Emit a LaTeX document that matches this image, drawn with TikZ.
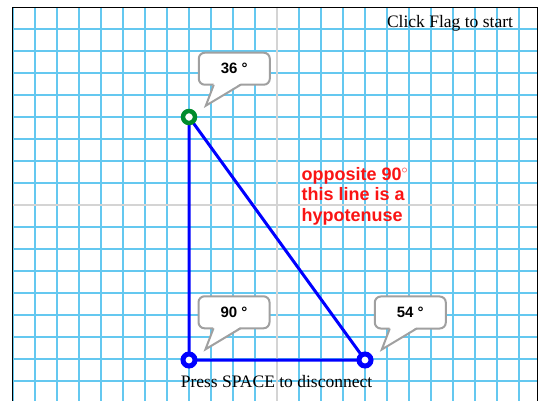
\documentclass[tikz,border=0pt]{standalone}
\usepackage{fontspec}
\setmainfont{Liberation Serif}
\newfontfamily\labelfont{Liberation Sans}
\usetikzlibrary{positioning}
\definecolor{gridblue}{RGB}{100,200,240}
\definecolor{centergray}{RGB}{212,212,212}
\definecolor{bubblegray}{RGB}{160,160,160}
\definecolor{markgreen}{RGB}{0,140,45}
\definecolor{hintred}{RGB}{250,20,20}
\newcommand{\calltail}[1]{%
    \fill[white] ([xshift=16pt,yshift=2.5pt]#1.south west) -- ([xshift=8pt,yshift=-20pt]#1.south west) -- ([xshift=43pt,yshift=2.5pt]#1.south west) -- cycle;
    \draw[tail] ([xshift=16pt,yshift=1pt]#1.south west) -- ([xshift=8pt,yshift=-20pt]#1.south west) -- ([xshift=43pt,yshift=1pt]#1.south west);}

\begin{document}
\begin{tikzpicture}[
    x=1pt, y=-1pt,
    gridline/.style={gridblue, line width=1.1pt},
    centerline/.style={centergray, line width=1.6pt},
    side/.style={blue, line width=3pt},
    vtx/.style={circle, draw=blue, line width=5pt, minimum size=12pt, inner sep=0pt, fill=white},
    bubble/.style={draw=bubblegray, line width=2pt, fill=white, rounded corners=6pt, minimum width=71pt, minimum height=32pt, inner sep=0pt, font=\labelfont\bfseries\fontsize{15}{17}\selectfont},
    tail/.style={bubblegray, line width=2pt, line join=miter},
    hint/.style={hintred, align=left, inner sep=0pt, font=\labelfont\bfseries\fontsize{18}{20.5}\selectfont},
    caption/.style={font=\fontsize{17.5}{20}\selectfont, inner sep=0pt}
]
    \useasboundingbox (0,0) rectangle (547,401);
    \fill[white] (0,0) rectangle (547,401);

    \foreach \k in {-12,...,11}
        \draw[gridline] (277+22*\k,7) -- (277+22*\k,401);
    \foreach \k in {-8,...,8}
        \draw[gridline] (12,205+22*\k) -- (538,205+22*\k);
    \draw[centerline] (277,7) -- (277,401);
    \draw[centerline] (12,205) -- (538,205);
    \draw[black, line width=1.5pt] (12.5,401) -- (12.5,7.5) -- (537.5,7.5) -- (537.5,401);

    \node[caption, anchor=base] (start) at (450,28) {Click Flag to start};

    \coordinate (A) at (189,117);
    \coordinate (B) at (189,360);
    \coordinate (C) at (365,360);
    \draw[side] (A) -- (B) -- (C) -- (A);
    \node[vtx, draw=markgreen, line width=4.5pt, minimum size=12pt] (top) at (A) {};
    \node[vtx] (right) at (B) {};
    \node[vtx] (acute) at (C) {};

    \node[bubble] (b36) at (234.3,68.7) {36 °};
    \calltail{b36}
    \node[bubble] (b90) at (234,312.3) {90 °};
    \calltail{b90}
    \node[bubble] (b54) at (410.3,312.5) {54 °};
    \calltail{b54}

    \node[hint, anchor=west] (hyp) at (301.5,196) {opposite 90$^{\circ}$\\this line is a\\hypotenuse};

    \node[caption, anchor=base] (space) at (276.5,387) {Press SPACE to disconnect};
\end{tikzpicture}
\end{document}
